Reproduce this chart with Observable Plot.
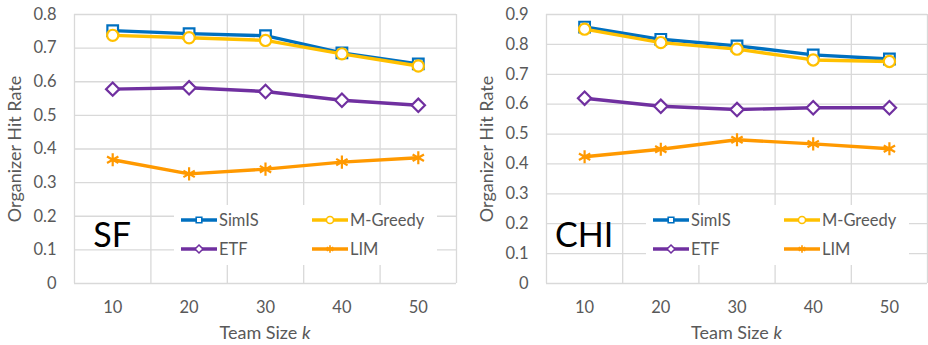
<!DOCTYPE html>
<html>
<head>
<meta charset="utf-8">
<script src="https://cdn.jsdelivr.net/npm/d3@7"></script>
<script src="https://cdn.jsdelivr.net/npm/@observablehq/plot@0.6"></script>
<style>
  html, body { margin: 0; padding: 0; background: #fff; }
  #wrap { display: flex; width: 928px; height: 345px; }
  #wrap > div { width: 464px; height: 345px; }
  svg { display: block; }
</style>
</head>
<body>
<div id="wrap"><div id="sf"></div><div id="chi"></div></div>
<script>
// Team sizes on the x axis
const teamSizes = [10, 20, 30, 40, 50];

// Organizer hit rate, SF dataset
const sfSimIS   = [0.752, 0.743, 0.737, 0.686, 0.653];
const sfMGreedy = [0.738, 0.731, 0.723, 0.683, 0.647];
const sfETF     = [0.578, 0.582, 0.571, 0.545, 0.530];
const sfLIM     = [0.368, 0.326, 0.340, 0.361, 0.374];
const sfYTicks  = [0, 0.1, 0.2, 0.3, 0.4, 0.5, 0.6, 0.7, 0.8];

// Organizer hit rate, CHI dataset
const chiSimIS   = [0.858, 0.817, 0.795, 0.765, 0.751];
const chiMGreedy = [0.851, 0.806, 0.784, 0.748, 0.743];
const chiETF     = [0.620, 0.593, 0.582, 0.588, 0.588];
const chiLIM     = [0.424, 0.449, 0.481, 0.467, 0.451];
const chiYTicks  = [0, 0.1, 0.2, 0.3, 0.4, 0.5, 0.6, 0.7, 0.8, 0.9];

const seriesNames = ["SimIS", "M-Greedy", "ETF", "LIM"];
const seriesStyle = {
  "SimIS":    {color: "#0070C0", symbol: "square",   r: 6.0, fill: "white"},
  "M-Greedy": {color: "#FFC000", symbol: "circle",   r: 5.6, fill: "white"},
  "ETF":      {color: "#7030A0", symbol: "diamond2", r: 6.0, fill: "white"},
  "LIM":      {color: "#FF9900", symbol: "asterisk", r: 6.2, fill: "none"}
};

const GRID = "#D9D9D9";
const INK = "#595959";
const FONT = "Lato, 'Open Sans', sans-serif";

function drawPanel(el, name, valuesBySeries, yTicks, marginLeft, marginRight) {
  const width = 464, height = 345;
  const marginTop = 14, marginBottom = 62;
  // category edges for the vertical grid (halfway between team sizes)
  const step = teamSizes[1] - teamSizes[0];
  const edges = teamSizes.map(k => k - step / 2).concat(teamSizes[teamSizes.length - 1] + step / 2);

  const marks = [
    Plot.ruleY(yTicks, {stroke: GRID, strokeWidth: 1.3}),
    Plot.ruleX(edges, {stroke: GRID, strokeWidth: 1.3}),
    Plot.axisY({ticks: yTicks, tickSize: 0, tickPadding: 18, label: null,
      fill: INK, fontSize: 16.5, tickFormat: d => d === 0 ? "0" : d.toFixed(1)}),
    Plot.axisX({ticks: teamSizes, tickSize: 0, tickPadding: 18, label: null,
      fill: INK, fontSize: 16.5, tickFormat: d => String(d)}),
    Plot.text(["Organizer Hit Rate"], {frameAnchor: "left", textAnchor: "middle",
      dx: -59, rotate: -90, fill: INK, fontSize: 18})
  ];
  seriesNames.forEach((s, i) => {
    const st = seriesStyle[s];
    const rows = teamSizes.map((k, j) => ({k, v: valuesBySeries[i][j]}));
    marks.push(Plot.line(rows, {x: "k", y: "v", stroke: st.color, strokeWidth: 3.4}));
    marks.push(Plot.dot(rows, {x: "k", y: "v", symbol: st.symbol, r: st.r,
      stroke: st.color, strokeWidth: 2.2, fill: st.fill}));
  });

  const chart = Plot.plot({
    width, height, marginLeft, marginRight, marginTop, marginBottom,
    style: {fontFamily: FONT, background: "white", overflow: "visible"},
    x: {type: "linear", domain: [edges[0], edges[edges.length - 1]]},
    y: {domain: [0, yTicks[yTicks.length - 1]]},
    marks
  });

  const svg = d3.select(chart);
  const xs = chart.scale("x");
  const plotLeft = marginLeft, plotRight = width - marginRight;

  // x-axis title with italic k
  const xt = svg.append("text")
    .attr("x", (plotLeft + plotRight) / 2).attr("y", 339)
    .attr("text-anchor", "middle")
    .attr("fill", INK).style("font-size", "18px").style("font-family", FONT);
  xt.append("tspan").text("Team Size ");
  xt.append("tspan").attr("font-style", "italic").text("k");

  // dataset name, centred under the first team size
  svg.append("text")
    .attr("x", xs.apply(teamSizes[0])).attr("y", 247)
    .attr("text-anchor", "middle")
    .attr("fill", "black").style("font-size", "34px").style("font-family", FONT)
    .text(name);

  // legend with white backing
  const lg = svg.append("g").attr("transform", `translate(${plotLeft + 100},205)`)
    .attr("text-anchor", "start");
  lg.append("rect").attr("width", 263).attr("height", 60).attr("fill", "white");
  seriesNames.forEach((s, i) => {
    const st = seriesStyle[s];
    const col = i % 2, row = Math.floor(i / 2);
    const gx = col === 0 ? 7 : 138, gy = row === 0 ? 15 : 44;
    const g = lg.append("g").attr("transform", `translate(${gx},${gy})`);
    g.append("line").attr("x1", 0).attr("x2", 36).attr("stroke", st.color).attr("stroke-width", 3.4);
    const sym = {square: d3.symbolSquare2, circle: d3.symbolCircle,
      diamond2: d3.symbolDiamond2, asterisk: d3.symbolAsterisk}[st.symbol];
    g.append("path").attr("transform", "translate(18,0)")
      .attr("d", d3.symbol(sym, 40)())
      .attr("fill", st.fill === "none" ? "none" : "white")
      .attr("stroke", st.color).attr("stroke-width", 1.6);
    g.append("text").attr("x", 38).attr("dy", "0.35em")
      .attr("text-anchor", "start")
      .attr("fill", INK).style("font-size", "16.5px").style("font-family", FONT)
      .text(s);
  });

  el.appendChild(chart);
}

drawPanel(document.getElementById("sf"), "SF",
  [sfSimIS, sfMGreedy, sfETF, sfLIM], sfYTicks, 74, 8);
drawPanel(document.getElementById("chi"), "CHI",
  [chiSimIS, chiMGreedy, chiETF, chiLIM], chiYTicks, 82, 1);
</script>
</body>
</html>
